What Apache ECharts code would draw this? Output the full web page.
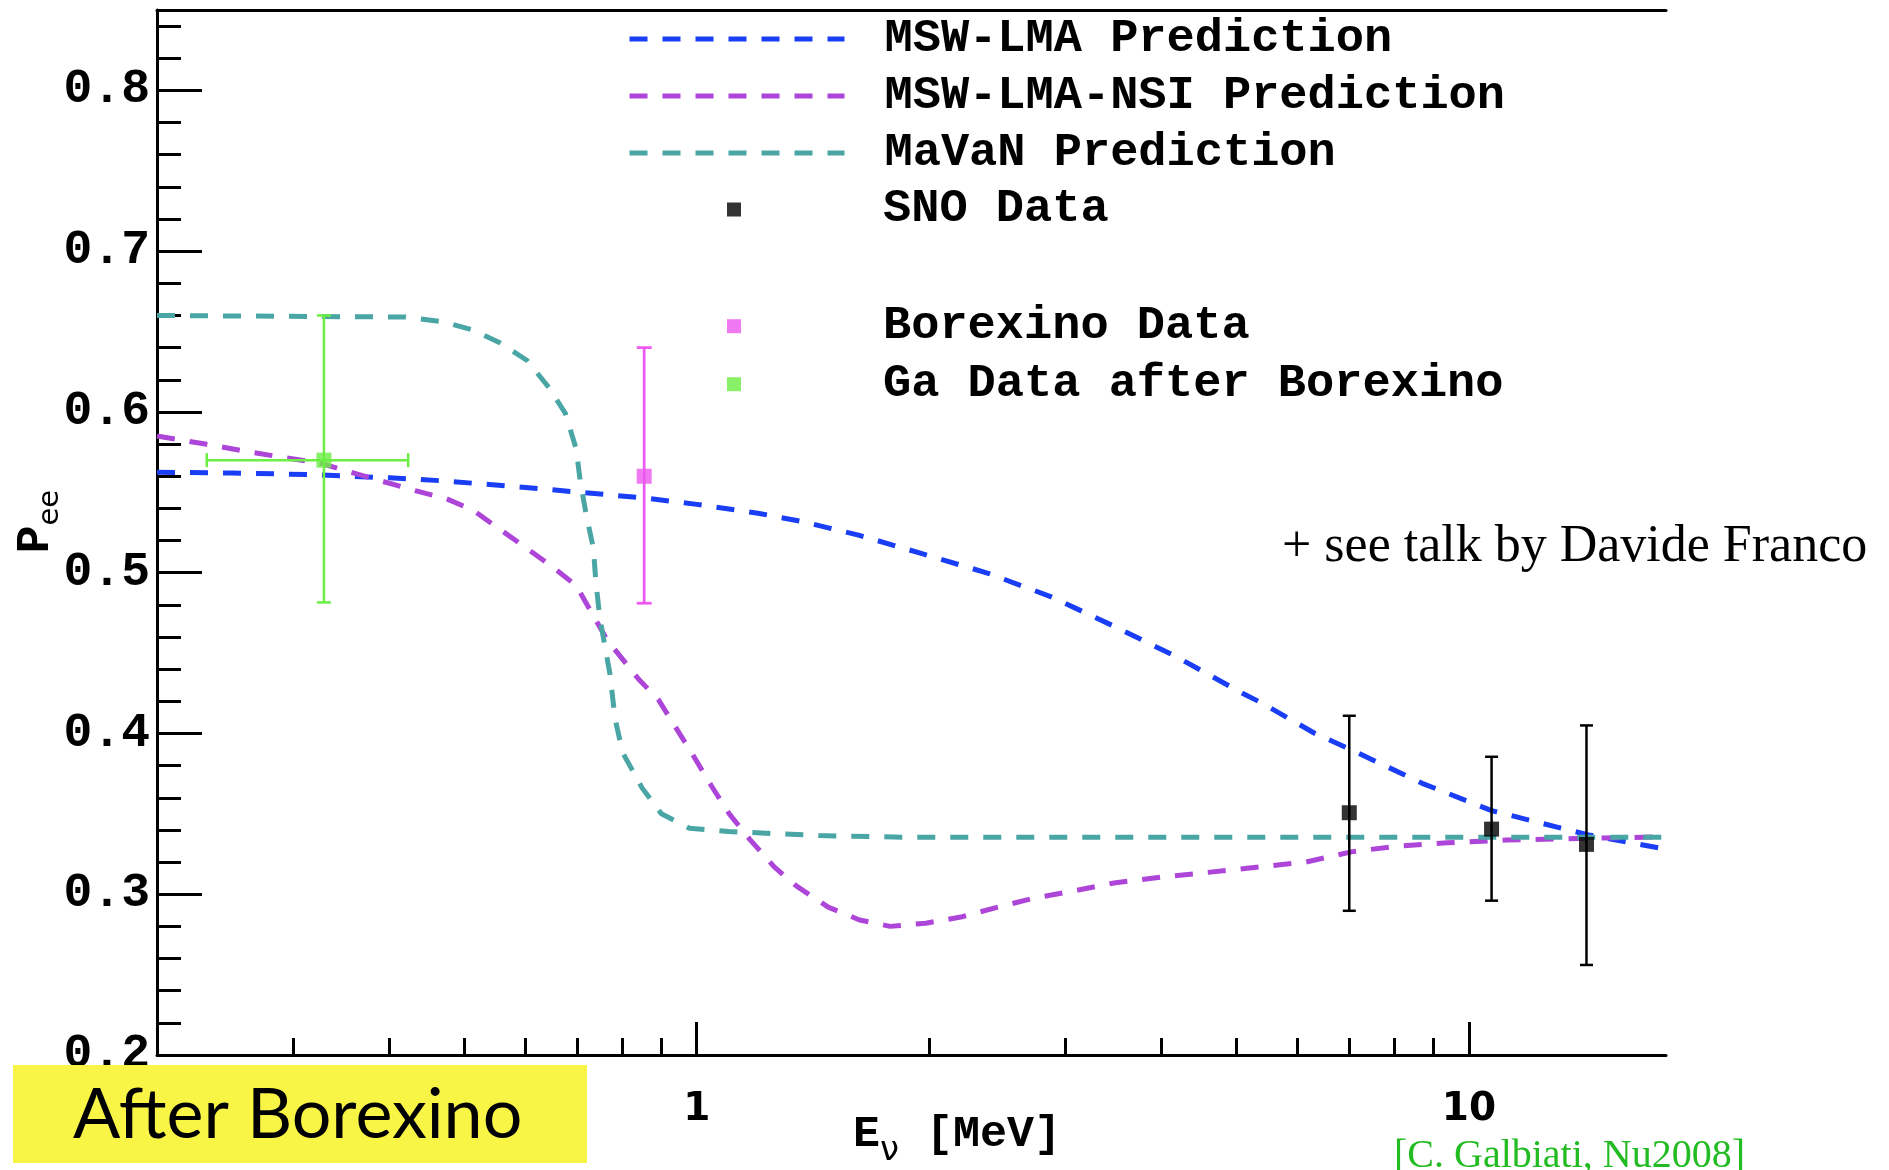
<!DOCTYPE html>
<html><head><meta charset="utf-8">
<script src="https://cdn.jsdelivr.net/npm/echarts@6/dist/echarts.min.js"></script>
<style>html,body{margin:0;padding:0;background:#fff}#c{width:1889px;height:1170px}</style>
</head><body><div id="c"></div>
<script>
// ---- data ----
const lmaE = [0.2,0.25,0.318,0.4,0.474,0.6,0.707,0.855,1.0,1.2,1.363,1.62,1.953,2.385,2.878,3.46,4.17,5.09,5.39,6.32,7.03,8.7,10.7,14.25,18];
const lmaP = [0.5625,0.562,0.561,0.559,0.557,0.553,0.550,0.5465,0.5425,0.537,0.532,0.5234,0.512,0.4996,0.485,0.467,0.448,0.425,0.419,0.400,0.390,0.369,0.352,0.337,0.328];

const nsiE = [0.2,0.231,0.264,0.326,0.378,0.432,0.474,0.513,0.556,0.603,0.653,0.698,0.766,0.84,0.892,0.979,1.046,1.102,1.172,1.26,1.347,1.48,1.625,1.78,1.98,2.207,2.455,2.73,3.04,3.47,4.01,4.9,6.15,7.07,8.1,9.38,11.2,14.3,18];
const nsiP = [0.585,0.580,0.575,0.568,0.559,0.551,0.546,0.539,0.527,0.515,0.503,0.492,0.458,0.434,0.421,0.390,0.367,0.350,0.334,0.317,0.305,0.292,0.284,0.280,0.282,0.286,0.292,0.2975,0.3016,0.307,0.3107,0.315,0.320,0.3265,0.330,0.332,0.3337,0.3348,0.3357];

const mavanE = [0.2,0.42,0.47,0.513,0.556,0.603,0.644,0.676,0.698,0.707,0.72,0.735,0.74,0.749,0.772,0.784,0.802,0.85,0.9,0.979,1.10,1.44,1.88,18];
const mavanP = [0.660,0.659,0.656,0.651,0.643,0.632,0.615,0.599,0.577,0.556,0.535,0.515,0.495,0.472,0.437,0.409,0.388,0.366,0.350,0.341,0.339,0.3365,0.3354,0.3354];

const snoE  = [7.0, 10.7, 14.2];
const snoP  = [0.3507, 0.3405, 0.331];
const snoLo = [0.2897, 0.296, 0.256];
const snoHi = [0.411, 0.3855, 0.405];

const borE  = [0.855];
const borP  = [0.560];
const borLo = [0.481];
const borHi = [0.640];

const gaE   = [0.329];
const gaP   = [0.570];
const gaLo  = [0.4815];
const gaHi  = [0.660];
const gaELo = [0.232];
const gaEHi = [0.423];

const xMajorTicks = [1, 10];
const xMinorTicks = [0.3,0.4,0.5,0.6,0.7,0.8,0.9,2,3,4,5,6,7,8,9];
const yMajorTicks = [0.3,0.4,0.5,0.6,0.7,0.8];
const yLabels     = [0.2,0.3,0.4,0.5,0.6,0.7,0.8];
const yMinorTicks = [0.22,0.24,0.26,0.28,0.32,0.34,0.36,0.38,0.42,0.44,0.46,0.48,0.52,0.54,0.56,0.58,0.62,0.64,0.66,0.68,0.72,0.74,0.76,0.78,0.82,0.84];

const seriesNames = ['MSW-LMA Prediction','MSW-LMA-NSI Prediction','MaVaN Prediction','SNO Data','Borexino Data','Ga Data after Borexino'];

// ---- styling ----
const C_BLUE = '#1a3ef5', C_PURPLE = '#ad45d8', C_TEAL = '#4aa5a5';
const C_PINK = '#ec58f0', C_GREEN = '#6cee42', C_BLACK = '#000';
const MONO = 'Liberation Mono';
const CURVE_W = 5, CURVE_DASH = [18, 15];

const zip = (a, b) => a.map((v, i) => [v, b[i]]);

function errRender(color, capW, lw) {
  return function (params, api) {
    const x = api.value(0), lo = api.value(2), hi = api.value(3);
    const pt = api.coord([x, hi]), pb = api.coord([x, lo]);
    const st = { stroke: color, lineWidth: lw };
    const ch = [
      { type: 'line', shape: { x1: pt[0], y1: pt[1], x2: pb[0], y2: pb[1] }, style: st },
      { type: 'line', shape: { x1: pt[0] - capW / 2, y1: pt[1], x2: pt[0] + capW / 2, y2: pt[1] }, style: st },
      { type: 'line', shape: { x1: pb[0] - capW / 2, y1: pb[1], x2: pb[0] + capW / 2, y2: pb[1] }, style: st }
    ];
    const xl = api.value(4), xh = api.value(5);
    if (isFinite(xl) && isFinite(xh)) {
      const y = api.value(1);
      const pl = api.coord([xl, y]), ph = api.coord([xh, y]);
      ch.push({ type: 'line', shape: { x1: pl[0], y1: pl[1], x2: ph[0], y2: ph[1] }, style: st });
      ch.push({ type: 'line', shape: { x1: pl[0], y1: pl[1] - capW / 2, x2: pl[0], y2: pl[1] + capW / 2 }, style: st });
      ch.push({ type: 'line', shape: { x1: ph[0], y1: ph[1] - capW / 2, x2: ph[0], y2: ph[1] + capW / 2 }, style: st });
    }
    return { type: 'group', children: ch };
  };
}

const lineSeries = (name, E, P, color) => ({
  name, type: 'line', data: zip(E, P), xAxisIndex: 0, yAxisIndex: 0,
  symbol: 'none', showSymbol: false, smooth: false, z: 3, silent: true,
  lineStyle: { color, width: CURVE_W, type: CURVE_DASH },
  itemStyle: { color }
});

const axisLineStyle = { color: '#000', width: 3 };
const xBase = { type: 'log', logBase: 10, min: 0.2, max: 18, gridIndex: 0, splitLine: { show: false }, minorTick: { show: false }, minorSplitLine: { show: false } };
const yBase = { type: 'value', min: 0.2, max: 0.85, gridIndex: 0, splitLine: { show: false }, minorTick: { show: false }, minorSplitLine: { show: false } };

const legendText = (gap) => ({ fontFamily: MONO, fontWeight: 'bold', fontSize: 47, lineHeight: 40, color: '#000', rich: { g: { width: gap, lineHeight: 40 } } });

const option = {
  animation: false,
  backgroundColor: '#fff',
  grid: { left: 157, right: 223, top: 10, bottom: 115, containLabel: false, outerBoundsMode: 'none' },
  xAxis: [
    Object.assign({}, xBase, {
      position: 'bottom',
      name: '{E|E}{nu|ν}{M| [MeV]}', nameLocation: 'middle', nameGap: 57, nameMoveOverlap: false,
      nameTextStyle: {
        padding: [0, 0, 0, 91],
        rich: {
          E: { fontFamily: MONO, fontWeight: 'bold', fontSize: 45, lineHeight: 45, verticalAlign: 'top', color: '#000' },
          nu: { fontFamily: 'DejaVu Sans', fontSize: 34, lineHeight: 34, padding: [22, 0, 0, 0], verticalAlign: 'top', color: '#000' },
          M: { fontFamily: MONO, fontWeight: 'bold', fontSize: 45, lineHeight: 45, verticalAlign: 'top', color: '#000' }
        }
      },
      axisLine: { show: true, lineStyle: axisLineStyle },
      axisTick: { show: true, inside: true, length: 33, customValues: xMajorTicks, lineStyle: { color: '#000', width: 3 } },
      axisLabel: { show: true, customValues: xMajorTicks, formatter: v => String(Math.round(v)), fontFamily: 'DejaVu Sans', fontWeight: 'bold', fontSize: 39, color: '#000', margin: 35 }
    }),
    Object.assign({}, xBase, {
      position: 'bottom',
      axisLine: { show: false },
      axisTick: { show: true, inside: true, length: 17, customValues: xMinorTicks, lineStyle: { color: '#000', width: 3 } },
      axisLabel: { show: false }
    }),
    Object.assign({}, xBase, {
      position: 'top',
      axisLine: { show: true, lineStyle: axisLineStyle },
      axisTick: { show: false },
      axisLabel: { show: false }
    })
  ],
  yAxis: [
    Object.assign({}, yBase, {
      position: 'left',
      name: '{P|P}{ee|ee}', nameLocation: 'middle', nameRotate: 90, nameGap: 98, nameMoveOverlap: false,
      nameTextStyle: {
        padding: [0, 0, 0, 22],
        rich: {
          P: { fontFamily: MONO, fontWeight: 'bold', fontSize: 46, lineHeight: 46, verticalAlign: 'top', color: '#000' },
          ee: { fontFamily: 'DejaVu Sans', fontSize: 29, lineHeight: 29, padding: [23, 0, 0, 0], verticalAlign: 'top', color: '#000' }
        }
      },
      axisLine: { show: true, lineStyle: axisLineStyle },
      axisTick: { show: true, inside: true, length: 45, customValues: yMajorTicks, lineStyle: { color: '#000', width: 3 } },
      axisLabel: { show: true, customValues: yLabels, formatter: v => v.toFixed(1), fontFamily: MONO, fontWeight: 'bold', fontSize: 48, color: '#000', margin: 7 }
    }),
    Object.assign({}, yBase, {
      position: 'left',
      axisLine: { show: false },
      axisTick: { show: true, inside: true, length: 24, customValues: yMinorTicks, lineStyle: { color: '#000', width: 3 } },
      axisLabel: { show: false }
    })
  ],
  legend: [
    {
      orient: 'vertical', left: 627, top: 15.6, padding: 0, itemGap: 9.9,
      itemWidth: 215, itemHeight: 14, selectedMode: false,
      formatter: '{g|}{name}', textStyle: legendText(35),
      lineStyle: { width: CURVE_W, type: CURVE_DASH },
      data: [
        { name: seriesNames[0], itemStyle: { opacity: 0 } },
        { name: seriesNames[1], itemStyle: { opacity: 0 } },
        { name: seriesNames[2], itemStyle: { opacity: 0 } }
      ]
    },
    {
      orient: 'vertical', left: 727, top: 186, padding: 0, itemGap: 10,
      itemWidth: 14, itemHeight: 14, selectedMode: false,
      formatter: '{g|}{name}', textStyle: legendText(137),
      data: [ { name: seriesNames[3], icon: 'rect' } ]
    },
    {
      orient: 'vertical', left: 727, top: 302.7, padding: 0, itemGap: 11,
      itemWidth: 14, itemHeight: 14, selectedMode: false,
      formatter: '{g|}{name}', textStyle: legendText(137),
      data: [
        { name: seriesNames[4], icon: 'rect' },
        { name: seriesNames[5], icon: 'rect' }
      ]
    }
  ],
  series: [
    lineSeries(seriesNames[0], lmaE, lmaP, C_BLUE),
    lineSeries(seriesNames[1], nsiE, nsiP, C_PURPLE),
    lineSeries(seriesNames[2], mavanE, mavanP, C_TEAL),
    { name: 'SNO errors', type: 'custom', xAxisIndex: 0, yAxisIndex: 0, z: 4, silent: true,
      renderItem: errRender(C_BLACK, 13, 2.5),
      data: snoE.map((e, i) => [e, snoP[i], snoLo[i], snoHi[i]]) },
    { name: 'Borexino errors', type: 'custom', xAxisIndex: 0, yAxisIndex: 0, z: 4, silent: true,
      renderItem: errRender(C_PINK, 15, 2.7),
      data: borE.map((e, i) => [e, borP[i], borLo[i], borHi[i]]) },
    { name: 'Ga errors', type: 'custom', xAxisIndex: 0, yAxisIndex: 0, z: 4, silent: true,
      renderItem: errRender(C_GREEN, 14, 2.5),
      data: gaE.map((e, i) => [e, gaP[i], gaLo[i], gaHi[i], gaELo[i], gaEHi[i]]) },
    { name: seriesNames[3], type: 'scatter', symbol: 'rect', symbolSize: 15, z: 5, silent: true,
      itemStyle: { color: C_BLACK }, data: zip(snoE, snoP) },
    { name: seriesNames[4], type: 'scatter', symbol: 'rect', symbolSize: 15, z: 5, silent: true,
      itemStyle: { color: C_PINK }, data: zip(borE, borP) },
    { name: seriesNames[5], type: 'scatter', symbol: 'rect', symbolSize: 15, z: 5, silent: true,
      itemStyle: { color: C_GREEN }, data: zip(gaE, gaP) }
  ],
  graphic: [
    { type: 'rect', left: 13, top: 1065, z: 100, shape: { width: 574, height: 98 }, style: { fill: '#f9f546' } },
    { type: 'text', x: 73, y: 1115, z: 101, style: { text: 'After Borexino', font: '70px Lato', fill: '#000', align: 'left', verticalAlign: 'middle' } },
    { type: 'text', x: 1282, y: 547, z: 101, style: { text: '+ see talk by Davide Franco', font: '52px "Liberation Serif"', fill: '#000', align: 'left', verticalAlign: 'middle' } },
    { type: 'text', x: 1394, y: 1156, z: 101, style: { text: '[C. Galbiati, Nu2008]', font: '40px "Liberation Serif"', fill: '#22bb22', align: 'left', verticalAlign: 'middle' } }
  ]
};

const chart = echarts.init(document.getElementById('c'), null, { renderer: 'canvas' });
chart.setOption(option);
</script>
</body></html>
